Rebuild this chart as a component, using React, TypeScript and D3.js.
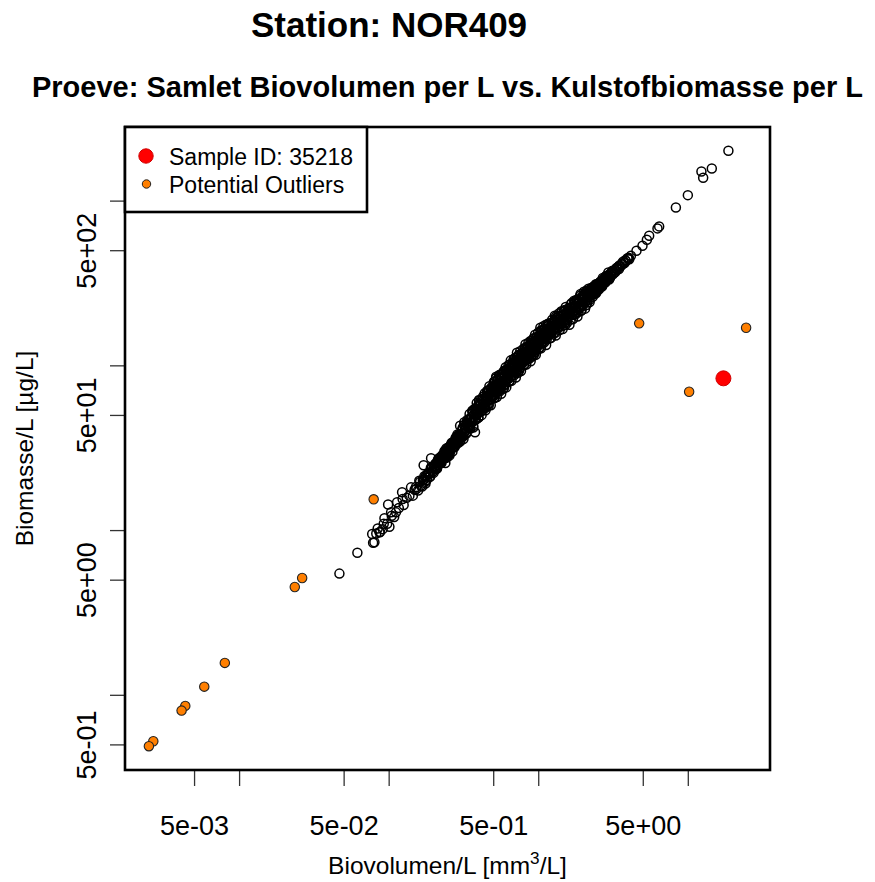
import React from 'react';
import * as d3 from 'd3';

const W = 875;
const H = 882;
const PLOT = { left: 125, right: 770, top: 127, bottom: 770 };
const FONT = "'Liberation Sans', Arial, Helvetica, sans-serif";

const titleText = 'Station: NOR409';
const subtitleText = 'Proeve: Samlet Biovolumen per L vs. Kulstofbiomasse per L';
const legendLabels = ['Sample ID: 35218', 'Potential Outliers'];

const xTicks = [0.005, 0.01, 0.05, 0.1, 0.5, 1, 5, 10];
const xTickLabels = ['5e-03', '', '5e-02', '', '5e-01', '', '5e+00', ''];
const yTicks = [0.5, 1, 5, 10, 50, 100, 500, 1000];
const yTickLabels = ['5e-01', '', '5e+00', '', '5e+01', '', '5e+02', ''];

// [biovolume mm3/L, biomass ug/L] for every regular sample
const samples: [number, number][] = [
  [0.0465, 5.48], [0.0613, 7.34], [0.0781, 8.44], [0.077, 9.53], [0.0797, 8.49],
  [0.0838, 10.3], [0.093, 11.9], [0.1004, 10.56], [0.103, 12.9], [0.0984, 14.4],
  [0.113, 14.85], [0.122, 17.1], [0.14, 18.3], [0.152, 17.9], [0.1366, 16.3],
  [0.123, 15.55], [0.111, 12.9], [0.0861, 9.76], [0.0905, 10.2], [0.159, 20.1],
  [0.17, 24.9], [0.1765, 21.5], [0.1857, 22.6], [0.1906, 27.5], [0.206, 23.65],
  [0.228, 27.2], [0.2375, 25.7], [0.2526, 28.5], [0.298, 43.3], [0.375, 39.5],
  [0.3826, 53.4], [0.399, 62.0], [0.518, 84.0], [0.715, 120.1], [0.929, 139.4],
  [1.106, 152.3], [2.01, 266], [2.23, 292], [2.41, 313], [2.81, 336],
  [3.11, 378], [3.45, 405], [4.03, 444],
  [4.132, 465.7], [4.504, 499.4], [4.94, 535.6], [5.284, 582.4], [5.475, 615.8],
  [6.222, 682.9], [6.386, 702.4], [8.26, 915.6], [9.93, 1087], [12.57, 1385],
  [12.24, 1514], [14.36, 1579], [18.54, 2020],
  [0.082, 9.6], [0.087, 9.8], [0.092, 11.0], [0.097, 11.0], [0.104, 12.3],
  [0.108, 12.1], [0.116, 13.7], [0.125, 14.3], [0.131, 15.8], [0.144, 16.3],
  [0.148, 17.7], [0.163, 18.7], [0.168, 20.3], [0.178, 20.3], [0.183, 22.0],
  [0.195, 22.7], [0.2, 24.5], [0.207, 23.8], [0.214, 26.2], [0.218, 26.0],
  [0.151, 18.4], [0.156, 17.5], [0.161, 19.8], [0.166, 18.5], [0.172, 21.4],
  [0.175, 19.3], [0.181, 22.2], [0.187, 21.2], [0.19, 24.1], [0.198, 22.4],
  [0.203, 25.4], [0.21, 24.4], [0.216, 27.6], [0.224, 25.8], [0.23, 29.0],
  [0.235, 27.7], [0.241, 31.5], [0.246, 28.8], [0.256, 32.2], [0.268, 32.0],
  [0.28, 36.2], [0.292, 35.0],
  [0.221, 25.7], [0.226, 28.4], [0.232, 27.5], [0.237, 30.5], [0.243, 27.8],
  [0.248, 30.6], [0.254, 30.1], [0.259, 33.3], [0.265, 30.2], [0.271, 34.0],
  [0.277, 33.8], [0.283, 37.3], [0.289, 34.0], [0.296, 38.1],
  [0.25, 28.7], [0.262, 34.1], [0.274, 32.4], [0.286, 38.3], [0.298, 34.7],
  [0.31, 41.1], [0.32, 39.7], [0.33, 45.3], [0.34, 41.8], [0.35, 47.2],
  [0.302, 36.8], [0.307, 40.7], [0.312, 37.2], [0.317, 43.7], [0.322, 41.3],
  [0.327, 38.7], [0.332, 44.6], [0.337, 42.8], [0.342, 47.2], [0.347, 43.2],
  [0.352, 47.2], [0.357, 45.2], [0.362, 52.4], [0.367, 48.4], [0.372, 51.3],
  [0.377, 47.2], [0.382, 54.2], [0.387, 50.9], [0.393, 54.1], [0.398, 58.2],
  [0.36, 53.4], [0.365, 42.2], [0.37, 54.5], [0.38, 47.2], [0.385, 59.5],
  [0.395, 48.5], [0.405, 60.0], [0.415, 50.2], [0.425, 65.1], [0.435, 57.2],
  [0.403, 52.5], [0.408, 57.7], [0.413, 55.7], [0.418, 62.2], [0.423, 54.2],
  [0.428, 61.5], [0.433, 59.9], [0.438, 58.3], [0.444, 65.3], [0.449, 56.8],
  [0.454, 64.5], [0.459, 62.1], [0.465, 71.4], [0.47, 65.0], [0.476, 69.3],
  [0.481, 63.4], [0.487, 69.1], [0.492, 66.4], [0.498, 75.1], [0.504, 66.1],
  [0.51, 74.2], [0.516, 71.4], [0.522, 77.5], [0.528, 71.1], [0.534, 77.2],
  [0.54, 74.3], [0.546, 83.7], [0.552, 77.6],
  [0.441, 53.8], [0.452, 70.4], [0.462, 58.6], [0.468, 75.2], [0.478, 57.6],
  [0.484, 74.1], [0.495, 65.5], [0.501, 79.8], [0.507, 63.7], [0.513, 76.8],
  [0.519, 85.9], [0.525, 64.6], [0.531, 82.7], [0.537, 70.0], [0.543, 87.8],
  [0.549, 70.1], [0.555, 85.1], [0.561, 67.7], [0.568, 89.5], [0.574, 77.4],
  [0.558, 74.5], [0.565, 83.4], [0.571, 79.5], [0.578, 87.0], [0.584, 76.3],
  [0.591, 84.7], [0.597, 81.4], [0.604, 93.5], [0.611, 84.2], [0.618, 90.4],
  [0.625, 83.5], [0.632, 94.2], [0.639, 89.8], [0.646, 98.1], [0.653, 86.2],
  [0.661, 95.8], [0.668, 91.1], [0.676, 101.8], [0.683, 92.2], [0.691, 99.1],
  [0.699, 96.3], [0.707, 108.4], [0.715, 93.4], [0.723, 106.8], [0.731, 101.7],
  [0.74, 108.3], [0.748, 100.9], [0.757, 112.9], [0.766, 107.7], [0.775, 116.7],
  [0.784, 104.6], [0.793, 113.7],
  [0.581, 72.6], [0.587, 93.4], [0.594, 76.8], [0.601, 98.1], [0.607, 74.1],
  [0.614, 95.0], [0.621, 82.9], [0.628, 100.8], [0.635, 80.2], [0.642, 96.6],
  [0.65, 108.0], [0.657, 81.2], [0.665, 103.9], [0.672, 87.8], [0.68, 110.1],
  [0.687, 87.8], [0.695, 106.6], [0.703, 84.9], [0.711, 112.1], [0.719, 97.0],
  [0.727, 90.9], [0.735, 116.9], [0.744, 96.1], [0.752, 122.8], [0.761, 92.9],
  [0.77, 119.2], [0.779, 104.0], [0.788, 126.5], [0.797, 100.7],
  [0.802, 110.5], [0.811, 119.8], [0.82, 108.3], [0.83, 126.1], [0.839, 116.7],
  [0.849, 123.0], [0.858, 115.7], [0.868, 129.4], [0.878, 119.7], [0.888, 137.4],
  [0.898, 126.2], [0.908, 121.2], [0.919, 134.4], [0.929, 127.9], [0.94, 141.5],
  [0.951, 124.2], [0.962, 138.0], [0.973, 135.4], [0.984, 146.7], [0.995, 134.2],
  [1.01, 146.3], [1.02, 140.5], [1.03, 156.5], [1.04, 137.4], [1.05, 155.1],
  [1.07, 150.4], [1.08, 158.0], [1.09, 148.6],
  [0.806, 121.3], [0.815, 135.4], [0.825, 101.9], [0.834, 130.3], [0.844, 110.3],
  [0.853, 138.1], [0.863, 110.3], [0.873, 133.9], [0.883, 106.6], [0.893, 140.8],
  [0.903, 121.8], [0.913, 114.1], [0.924, 147.0], [0.934, 120.7], [0.945, 154.3],
  [0.956, 116.7], [0.967, 149.7], [0.978, 130.5], [0.99, 158.8], [1.0, 126.4],
  [1.015, 152.8], [1.025, 170.3], [1.035, 127.9], [1.045, 163.2], [1.06, 138.5],
  [1.075, 174.0], [1.085, 138.7],
  [1.11, 164.1], [1.13, 149.2], [1.14, 161.4], [1.16, 157.3], [1.17, 176.4],
  [1.19, 157.3], [1.2, 170.1], [1.22, 157.2], [1.24, 179.7], [1.25, 168.7],
  [1.27, 184.7], [1.29, 169.3], [1.31, 183.8], [1.33, 169.7], [1.35, 189.8],
  [1.37, 182.7], [1.39, 199.6], [1.41, 179.3], [1.43, 192.7], [1.46, 188.1],
  [1.48, 205.8], [1.5, 184.1], [1.53, 205.0],
  [1.1, 167.5], [1.12, 133.9], [1.15, 178.7], [1.18, 156.3], [1.21, 147.8],
  [1.23, 190.4], [1.26, 157.7], [1.28, 201.7], [1.3, 152.6], [1.32, 195.7],
  [1.34, 170.7], [1.36, 207.5], [1.38, 165.2], [1.4, 198.9], [1.42, 212.5],
  [1.445, 167.3], [1.47, 214.4], [1.49, 181.2], [1.515, 227.4], [1.545, 182.4],
  [1.56, 195.8], [1.59, 215.6], [1.62, 206.4], [1.65, 226.7], [1.68, 204.0],
  [1.71, 222.6], [1.74, 216.9], [1.77, 238.1], [1.8, 218.5], [1.83, 240.3],
  [1.86, 231.9], [1.89, 254.2], [1.92, 228.5], [1.95, 251.2], [1.99, 243.0],
  [2.02, 263.8], [2.06, 247.6], [2.09, 268.9], [2.13, 259.9], [2.17, 283.0],
  [1.575, 222.3], [1.605, 177.6], [1.635, 235.6], [1.665, 204.7], [1.695, 192.4],
  [1.725, 248.6], [1.755, 204.9], [1.785, 251.3], [1.815, 199.2], [1.845, 256.0],
  [1.875, 223.8], [1.905, 272.8], [1.935, 217.7], [1.97, 263.3], [2.005, 282.2],
  [2.04, 222.5], [2.075, 285.3], [2.11, 242.1], [2.15, 293.9], [2.19, 244.4],
  [2.22, 266.6], [2.27, 285.5], [2.32, 279.2], [2.37, 298.6], [2.43, 283.9],
  [2.49, 305.0], [2.55, 302.1], [2.61, 320.8], [2.68, 312.2], [2.75, 332.2],
  [2.83, 330.3], [2.91, 352.0], [3.0, 343.4], [3.09, 367.0], [3.2, 366.9],
  [3.31, 393.0], [3.44, 386.7], [3.58, 416.5], [3.75, 420.4], [3.92, 449.8],
  [2.245, 296.7], [2.295, 262.5], [2.345, 304.5], [2.4, 275.2], [2.46, 314.1],
  [2.52, 290.2], [2.58, 324.2], [2.645, 305.5], [2.715, 335.3], [2.79, 323.1],
  [2.87, 348.1], [2.955, 342.6],
  [0.2, 24.0], [0.203, 23.7], [0.206, 25.5], [0.209, 23.8], [0.212, 27.0],
  [0.215, 25.7], [0.219, 27.0], [0.222, 26.0], [0.225, 28.5], [0.228, 27.7],
  [0.231, 27.4], [0.234, 30.3], [0.237, 27.6], [0.24, 30.0], [0.244, 29.3],
  [0.247, 31.8], [0.251, 29.0], [0.254, 31.5], [0.257, 30.5], [0.261, 33.3],
  [0.264, 32.8], [0.267, 32.2], [0.271, 34.6], [0.274, 32.2], [0.278, 36.5],
  [0.281, 34.6], [0.285, 36.2], [0.288, 34.6], [0.292, 38.1], [0.295, 36.9],
  [0.299, 36.6],
  [0.303, 38.9], [0.306, 37.1], [0.31, 42.1], [0.314, 36.0], [0.318, 45.5],
  [0.321, 40.3], [0.325, 43.5], [0.329, 39.5], [0.333, 47.0], [0.337, 43.7],
  [0.341, 42.2], [0.345, 51.0], [0.349, 41.6], [0.353, 48.7], [0.357, 45.7],
  [0.361, 53.1], [0.365, 43.2], [0.369, 50.7], [0.373, 47.0], [0.378, 55.0],
  [0.382, 52.7], [0.386, 50.3], [0.391, 56.9], [0.395, 48.5], [0.4, 61.4],
  [0.405, 54.5], [0.41, 58.6], [0.415, 53.1], [0.42, 63.1], [0.425, 58.7],
  [0.43, 56.5], [0.436, 68.2], [0.441, 55.6], [0.446, 65.0], [0.452, 61.0],
  [0.457, 70.7], [0.463, 57.5], [0.468, 67.3], [0.474, 62.3], [0.48, 72.7],
  [0.486, 69.6], [0.491, 66.3], [0.497, 74.9], [0.503, 63.8], [0.509, 80.5],
  [0.515, 71.3], [0.521, 76.6], [0.527, 69.4], [0.533, 82.3], [0.539, 76.4],
  [0.545, 73.5], [0.551, 88.4], [0.557, 72.0],
  [0.564, 84.1], [0.571, 78.6], [0.578, 91.1], [0.585, 73.9], [0.592, 86.6],
  [0.599, 80.0], [0.606, 93.0], [0.613, 88.8], [0.62, 84.5], [0.627, 95.2],
  [0.634, 81.0], [0.642, 102.1], [0.649, 90.3], [0.657, 97.0], [0.664, 87.7],
  [0.672, 104.0], [0.68, 96.6], [0.688, 92.8], [0.696, 111.7], [0.704, 91.0],
  [0.713, 106.3], [0.721, 99.3], [0.73, 115.0], [0.738, 93.3], [0.747, 109.3],
  [0.756, 100.9], [0.765, 117.4], [0.774, 112.1], [0.783, 106.7], [0.792, 120.3],
  [0.802, 102.5], [0.811, 129.0], [0.821, 114.3], [0.83, 122.6], [0.84, 111.0],
  [0.85, 131.6], [0.861, 122.3], [0.871, 117.5], [0.881, 141.4], [0.892, 115.2],
  [0.902, 134.5], [0.913, 125.7], [0.924, 145.6], [0.935, 118.2], [0.946, 138.4],
  [0.957, 127.8], [0.969, 148.6], [0.98, 141.9], [0.992, 135.2], [1.004, 152.5],
  [1.016, 129.8], [1.028, 163.5], [1.04, 144.8], [1.052, 155.4], [1.065, 140.7],
  [1.078, 166.9], [1.091, 154.9],
  [1.104, 147.9], [1.117, 177.6], [1.131, 144.5], [1.144, 168.3], [1.158, 157.0],
  [1.172, 181.4], [1.186, 146.9], [1.2, 171.8], [1.215, 158.3], [1.229, 183.6],
  [1.244, 175.0], [1.259, 166.2], [1.274, 186.9], [1.29, 158.7], [1.305, 199.4],
  [1.321, 176.1], [1.337, 188.5], [1.353, 170.1], [1.369, 201.1], [1.386, 186.3],
  [1.402, 178.5], [1.419, 214.3], [1.436, 174.2], [1.454, 202.8], [1.471, 189.2],
  [1.489, 218.4], [1.507, 176.9], [1.525, 206.5], [1.543, 190.1],
  [1.562, 220.7], [1.581, 210.4], [1.6, 200.2], [1.62, 225.3], [1.639, 191.3],
  [1.659, 240.4], [1.679, 212.6], [1.699, 227.8], [1.72, 205.7], [1.74, 243.6],
  [1.761, 225.6], [1.783, 216.6], [1.804, 248.8], [1.826, 211.6], [1.848, 246.9],
  [1.87, 230.4], [1.893, 266.2], [1.916, 215.7], [1.939, 252.1], [1.962, 232.3],
  [1.986, 269.9], [2.01, 257.5], [2.034, 244.9], [2.058, 275.6], [2.083, 234.1],
  [2.108, 283.9], [2.134, 260.1], [2.159, 278.9], [2.185, 251.9],
  [2.212, 286.0], [2.239, 276.3], [2.266, 271.9], [2.293, 299.9], [2.321, 271.6],
  [2.349, 294.6], [2.377, 286.0], [2.406, 309.4], [2.435, 280.0], [2.465, 303.9],
  [2.495, 293.7], [2.525, 317.9], [2.556, 312.1], [2.587, 306.0], [2.618, 326.5],
  [2.65, 302.9], [2.682, 341.4], [2.715, 322.3], [2.748, 335.5], [2.781, 320.6],
  [2.815, 350.7], [2.849, 339.0], [2.884, 334.0], [2.919, 368.4], [2.954, 333.8],
  [2.99, 361.8],
  [3.03, 353.7], [3.15, 376.9], [3.26, 372.8], [3.38, 396.4], [3.52, 402.5],
  [3.66, 428.6], [3.83, 432.3], [4.0, 452.8],
  [0.171, 20.5], [0.174, 19.8], [0.177, 21.6], [0.18, 21.0], [0.184, 22.4],
  [0.188, 21.3], [0.192, 23.9], [0.196, 22.8], [0.201, 24.4], [0.205, 23.7],
  [0.208, 25.9], [0.211, 25.0], [0.217, 26.5], [0.223, 26.5], [0.227, 28.6],
  [0.233, 27.5], [0.239, 30.0], [0.245, 29.6], [0.249, 31.9], [0.253, 29.7],
  [0.258, 32.6], [0.263, 31.7], [0.269, 34.5], [0.273, 32.7], [0.279, 34.9],
  [0.284, 36.7], [0.29, 35.1], [0.297, 38.0],
  [2.2, 272.6], [2.26, 287.0], [2.31, 275.4], [2.36, 294.7], [2.42, 288.9],
  [2.48, 310.1], [2.54, 298.1], [2.6, 319.8], [2.66, 316.5], [2.73, 336.9],
  [2.8, 327.4], [2.88, 349.0], [2.96, 346.6], [3.05, 366.5], [3.13, 360.1],
  [3.23, 381.0], [3.34, 384.6], [3.47, 405.5], [3.62, 412.1], [3.79, 437.2],
  [3.97, 445.3],
];

// samples flagged as potential outliers
const outliers: [number, number][] = [
  [0.0262, 5.155], [0.02339, 4.546], [0.007967, 1.573], [0.005805, 1.129],
  [0.004334, 0.8623], [0.004094, 0.8074], [0.002649, 0.5265], [0.002475, 0.4911],
  [0.0788, 15.48], [4.694, 181.1], [24.35, 170.3], [10.13, 69.63],
];

// the sample in focus (ID 35218)
const focusSample: [number, number][] = [[17.17, 83.99]];

function logPadded(ext: [number, number]): [number, number] {
  const lo = Math.log10(ext[0]);
  const hi = Math.log10(ext[1]);
  const d = (hi - lo) * 0.04;
  return [Math.pow(10, lo - d), Math.pow(10, hi + d)];
}

export default function App() {
  const all = [...samples, ...outliers, ...focusSample];
  const x = d3
    .scaleLog()
    .domain(logPadded(d3.extent(all, (d) => d[0]) as [number, number]))
    .range([PLOT.left, PLOT.right]);
  const y = d3
    .scaleLog()
    .domain(logPadded(d3.extent(all, (d) => d[1]) as [number, number]))
    .range([PLOT.bottom, PLOT.top]);

  const cx = (PLOT.left + PLOT.right) / 2;
  const cy = (PLOT.top + PLOT.bottom) / 2;
  const tickFs = 27;
  const labFs = 24.5;
  const legFs = 23;

  return (
    <svg
      width={W}
      height={H}
      viewBox={`0 0 ${W} ${H}`}
      style={{ position: 'absolute', left: 0, top: 0, background: '#fff' }}
      fontFamily={FONT}
    >
      <rect x={0} y={0} width={W} height={H} fill="#fff" />
      <text x={389} y={37} textAnchor="middle" fontWeight="bold" fontSize={35}>
        {titleText}
      </text>
      <text x={cx} y={97} textAnchor="middle" fontWeight="bold" fontSize={29}>
        {subtitleText}
      </text>

      {/* points */}
      <g>
        {samples.map((d, i) => (
          <circle key={`s${i}`} cx={x(d[0])} cy={y(d[1])} r={4.5} fill="none" stroke="#000" strokeWidth={1.5} />
        ))}
        {outliers.map((d, i) => (
          <circle key={`o${i}`} cx={x(d[0])} cy={y(d[1])} r={4.7} fill="#ff7f00" stroke="#222" strokeWidth={1.1} />
        ))}
        {focusSample.map((d, i) => (
          <circle key={`f${i}`} cx={x(d[0])} cy={y(d[1])} r={7.5} fill="#ff0000" stroke="#d00000" strokeWidth={1} />
        ))}
      </g>

      {/* x axis */}
      <g>
        {xTicks.map((t, i) => (
          <g key={`xt${i}`}>
            <line x1={x(t)} x2={x(t)} y1={PLOT.bottom} y2={PLOT.bottom + 16} stroke="#333" strokeWidth={1.3} />
            {xTickLabels[i] && (
              <text x={x(t)} y={835} textAnchor="middle" fontSize={tickFs}>
                {xTickLabels[i]}
              </text>
            )}
          </g>
        ))}
        <text x={cx} y={874} textAnchor="middle" fontSize={labFs}>
          Biovolumen/L [mm
          <tspan fontSize={labFs * 0.7} dy={-10}>3</tspan>
          <tspan dy={10}>/L]</tspan>
        </text>
      </g>

      {/* y axis */}
      <g>
        {yTicks.map((t, i) => (
          <g key={`yt${i}`}>
            <line x1={PLOT.left - 15} x2={PLOT.left} y1={y(t)} y2={y(t)} stroke="#333" strokeWidth={1.3} />
            {yTickLabels[i] && (
              <text
                transform={`translate(96,${y(t)}) rotate(-90)`}
                textAnchor="middle"
                fontSize={tickFs}
              >
                {yTickLabels[i]}
              </text>
            )}
          </g>
        ))}
        <text transform={`translate(33,${cy}) rotate(-90)`} textAnchor="middle" fontSize={labFs}>
          Biomasse/L [µg/L]
        </text>
      </g>

      <rect
        x={PLOT.left}
        y={PLOT.top}
        width={PLOT.right - PLOT.left}
        height={PLOT.bottom - PLOT.top}
        fill="none"
        stroke="#000"
        strokeWidth={2.6}
      />

      {/* legend */}
      <g>
        <rect x={PLOT.left} y={PLOT.top} width={242} height={85} fill="#fff" stroke="#000" strokeWidth={2.6} />
        <circle cx={146} cy={156} r={7.2} fill="#ff0000" stroke="#d00000" strokeWidth={1} />
        <circle cx={146.5} cy={184} r={4.2} fill="#ff7f00" stroke="#222" strokeWidth={1} />
        <text x={169} y={165} fontSize={legFs}>{legendLabels[0]}</text>
        <text x={169} y={193} fontSize={legFs}>{legendLabels[1]}</text>
      </g>
    </svg>
  );
}
